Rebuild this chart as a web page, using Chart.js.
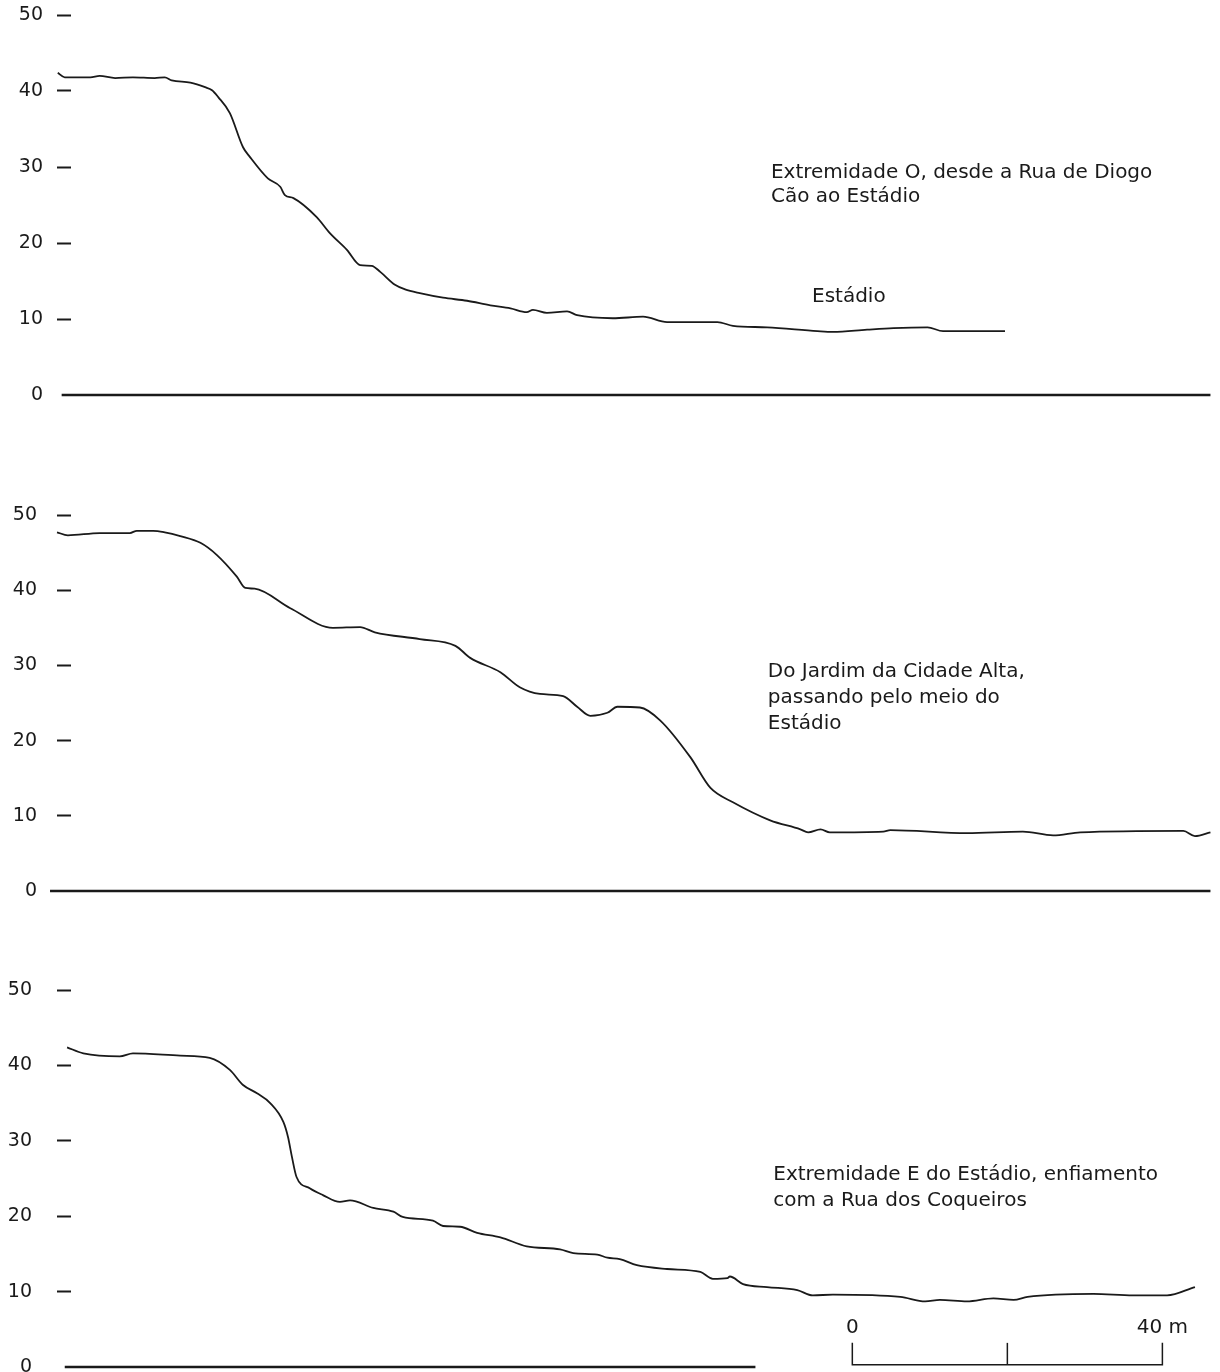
<!DOCTYPE html>
<html>
<head>
<meta charset="utf-8">
<script src="https://cdn.jsdelivr.net/npm/chart.js@4.4.0/dist/chart.umd.min.js"></script>
<style>
  html, body { margin: 0; padding: 0; background: #fff; overflow: hidden; }
  .panel { position: absolute; left: 0; width: 1220px; }
  #p1 { top: 0; height: 410px; }
  #p2 { top: 500px; height: 406px; }
  #p3 { top: 975px; height: 407px; }
</style>
</head>
<body>
<div class="panel" id="p1"><canvas id="c1"></canvas></div>
<div class="panel" id="p2"><canvas id="c2"></canvas></div>
<div class="panel" id="p3"><canvas id="c3"></canvas></div>
<script>
// elevation ticks (m)
const elevTicks = [0, 10, 20, 30, 40, 50];

// Profile 1 - Extremidade O (distance m, elevation m)
const dist1 = [0.1, 1.0, 4.3, 5.5, 7.5, 9.8, 12.6, 13.9, 14.8, 17.2, 19.1, 20.0, 20.8, 22.3, 24.0,
  24.9, 27.2, 28.8, 29.4, 30.5, 33.5, 35.2, 37.4, 39.1, 40.6, 41.7, 43.6, 44.9, 46.8, 49.8,
  52.9, 55.9, 58.5, 60.6, 61.4, 63.2, 65.8, 67.1, 71.7, 75.6, 78.7, 85.2, 87.2, 91.6, 98.1,
  100.1, 104.5, 107.9, 112.3, 114.3, 122.3];
const elev1 = [42.4, 41.8, 41.8, 42.0, 41.7, 41.8, 41.7, 41.8, 41.4, 41.1, 40.5, 40.1, 39.2, 37.1, 32.6,
  31.3, 28.5, 27.4, 26.3, 25.9, 23.4, 21.3, 19.1, 17.1, 17.0, 16.2, 14.5, 13.9, 13.4, 12.8,
  12.4, 11.8, 11.4, 10.9, 11.2, 10.8, 11.0, 10.5, 10.1, 10.3, 9.6, 9.6, 9.1, 8.9, 8.4,
  8.3, 8.6, 8.8, 8.9, 8.4, 8.4];
const base1 = [0.6, 148.8];

// Profile 2 - Do Jardim da Cidade Alta
const dist2 = [0, 1.4, 5.5, 9.4, 10.3, 12.4, 13.9, 15.9, 18.5, 20.6, 23.2, 24.3, 25.5, 30.1, 35.6,
  39.1, 41.0, 46.8, 51.4, 53.3, 57.2, 59.7, 62.3, 65.3, 67.1, 68.8, 71.0, 72.3, 75.2, 77.8,
  81.7, 84.3, 87.2, 92.0, 95.9, 96.9, 98.5, 99.7, 106.6, 107.5, 117.4, 124.6, 128.5, 132.0,
  145.3, 146.8, 148.8];
const elev2 = [47.7, 47.3, 47.6, 47.6, 47.9, 47.9, 47.7, 47.2, 46.3, 44.7, 41.8, 40.3, 40.2, 37.6, 35.0,
  35.1, 34.4, 33.5, 32.6, 31.0, 29.1, 27.1, 26.2, 25.9, 24.5, 23.3, 23.7, 24.5, 24.4, 22.7,
  17.8, 13.7, 11.8, 9.4, 8.2, 7.8, 8.2, 7.8, 7.9, 8.1, 7.7, 7.9, 7.4, 7.8,
  8.0, 7.3, 7.8];
const base2 = [-0.9, 148.8];

// Profile 3 - Extremidade E
const dist3 = [1.3, 3.4, 8.1, 9.8, 15.9, 19.7, 22.3, 24.0, 25.8, 27.5, 29.2, 29.8, 30.3, 30.9, 32.6,
  34.3, 36.5, 37.8, 40.8, 43.4, 44.6, 48.5, 49.8, 52.0, 54.2, 57.2, 60.6, 64.9, 66.6, 69.7,
  71.0, 72.6, 74.8, 78.7, 83.0, 84.6, 86.5, 86.8, 88.5, 91.6, 95.5, 97.5, 100.1, 108.8, 112.0,
  113.9, 117.4, 120.8, 123.4, 125.2, 133.7, 138.8, 143.2, 146.8];
const elev3 = [42.4, 41.6, 41.2, 41.6, 41.3, 41.0, 39.4, 37.4, 36.3, 35.0, 32.5, 30.5, 27.9, 25.2, 23.7,
  22.8, 21.9, 22.1, 21.1, 20.6, 19.9, 19.4, 18.7, 18.6, 17.8, 17.2, 16.0, 15.6, 15.1, 14.9,
  14.5, 14.3, 13.5, 13.0, 12.6, 11.7, 11.8, 12.0, 11.0, 10.6, 10.2, 9.5, 9.6, 9.3, 8.7,
  8.9, 8.7, 9.1, 8.9, 9.3, 9.7, 9.5, 9.5, 10.6];
const base3 = [1.0, 90.1];

// scale bar (m)
const scaleBarMarks = [0, 20, 40];
const scaleBarStart = 102.6;
const scaleBarHeight = [0.3, 3.2];

const INK = '#1a1a1a';
const FONT = '"DejaVu Sans", sans-serif';

const notesPlugin = {
  id: 'notes',
  afterDatasetsDraw(chart, args, opts) {
    const { ctx, scales: { x, y } } = chart;
    ctx.save();
    ctx.font = '20px ' + FONT;
    ctx.fillStyle = INK;
    ctx.textBaseline = 'middle';
    (opts.items || []).forEach(n => {
      ctx.textAlign = n.align || 'left';
      ctx.fillText(n.text, x.getPixelForValue(n.x), y.getPixelForValue(n.y));
    });
    ctx.restore();
  }
};

function toPoints(xs, ys) {
  return xs.map((d, i) => ({ x: d, y: ys[i] }));
}

function lineSet(points, width, clip) {
  return {
    data: points,
    borderColor: INK,
    borderWidth: width,
    pointRadius: 0,
    tension: 0,
    fill: false,
    clip: clip
  };
}

function makeProfile(id, dist, elev, base, notes, labelPad, extra) {
  const profile = lineSet(toPoints(dist, elev), 1.8, 4);
  profile.cubicInterpolationMode = 'monotone';

  const datasets = [
    lineSet(toPoints(base, [0, 0]), 2.6, false),
    profile
  ].concat(extra || []);

  return new Chart(document.getElementById(id), {
    type: 'line',
    data: { datasets },
    plugins: [notesPlugin],
    options: {
      responsive: true,
      maintainAspectRatio: false,
      animation: false,
      events: [],
      layout: { padding: { top: 15, right: 8, bottom: 15, left: 0 } },
      plugins: {
        legend: { display: false },
        tooltip: { enabled: false },
        notes: { items: notes }
      },
      scales: {
        x: { type: 'linear', min: 0, max: 149, display: false },
        y: {
          min: 0,
          max: 50,
          afterBuildTicks: s => { s.ticks = elevTicks.map(v => ({ value: v })); },
          afterFit: s => {
            // labels sit left of the dashes; keep the plot edge at the dash start
            s.width = 57;
            s.paddingTop = 10;
            s.paddingBottom = 10;
          },
          border: { display: false },
          grid: {
            drawOnChartArea: false,
            drawTicks: true,
            tickLength: -14,
            tickWidth: 2,
            tickColor: c => (c.tick && c.tick.value === 0) ? 'rgba(0,0,0,0)' : INK
          },
          ticks: {
            color: INK,
            padding: labelPad,
            font: { family: FONT, size: 19 }
          }
        }
      }
    }
  });
}

makeProfile('c1', dist1, elev1, base1, [
  { text: 'Extremidade O, desde a Rua de Diogo', x: 92.1, y: 29.3 },
  { text: 'Cão ao Estádio', x: 92.1, y: 26.1 },
  { text: 'Estádio', x: 97.4, y: 12.9 }
], 28);

makeProfile('c2', dist2, elev2, base2, [
  { text: 'Do Jardim da Cidade Alta,', x: 91.7, y: 29.1 },
  { text: 'passando pelo meio do', x: 91.7, y: 25.7 },
  { text: 'Estádio', x: 91.7, y: 22.3 }
], 34);

// scale bar: outer bracket and middle tick
const sbFirst = scaleBarStart + scaleBarMarks[0];
const sbLast = scaleBarStart + scaleBarMarks[scaleBarMarks.length - 1];
const sbMid = scaleBarStart + scaleBarMarks[1];
const scaleBarSets = [
  lineSet([
    { x: sbFirst, y: scaleBarHeight[1] },
    { x: sbFirst, y: scaleBarHeight[0] },
    { x: sbLast, y: scaleBarHeight[0] },
    { x: sbLast, y: scaleBarHeight[1] }
  ], 1.5, 4),
  lineSet([
    { x: sbMid, y: scaleBarHeight[0] },
    { x: sbMid, y: scaleBarHeight[1] }
  ], 1.5, 4)
];

makeProfile('c3', dist3, elev3, base3, [
  { text: 'Extremidade E do Estádio, enfiamento', x: 92.4, y: 25.5 },
  { text: 'com a Rua dos Coqueiros', x: 92.4, y: 22.1 },
  { text: String(scaleBarMarks[0]), x: sbFirst, y: 5.2, align: 'center' },
  { text: scaleBarMarks[scaleBarMarks.length - 1] + ' m', x: sbLast, y: 5.2, align: 'center' }
], 39, scaleBarSets);
</script>
</body>
</html>
